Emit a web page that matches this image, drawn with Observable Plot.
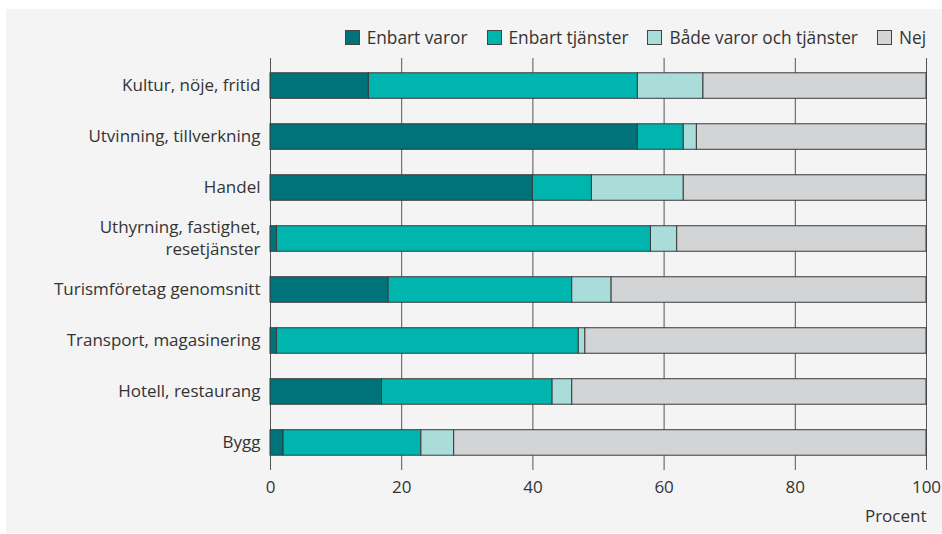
<!DOCTYPE html>
<html>
<head>
<meta charset="utf-8">
<script src="https://cdn.jsdelivr.net/npm/d3@7"></script>
<script src="https://cdn.jsdelivr.net/npm/@observablehq/plot@0.6"></script>
<style>
  html, body { margin: 0; padding: 0; background: #ffffff; }
  body { width: 942px; height: 534px; position: relative; overflow: hidden; font-family: "Open Sans", sans-serif; color: #333; }
  #panel { position: absolute; left: 6px; top: 9px; width: 936px; height: 524px; background: #f4f4f4; }
  #legend { position: absolute; right: 16px; top: 17px; display: flex; align-items: center; font-size: 17.3px; color: #333; white-space: nowrap; }
  .item { display: flex; align-items: center; margin-left: 19px; }
  .sw { width: 13px; height: 13px; border: 1px solid #444; margin-right: 7px; box-sizing: content-box; }
  #chart { position: absolute; left: 0; top: 0; }
</style>
</head>
<body>
<div id="panel">
  <div id="legend"></div>
  <div id="chart"></div>
</div>
<script>
const categories = [
  "Kultur, nöje, fritid",
  "Utvinning, tillverkning",
  "Handel",
  "Uthyrning, fastighet,\nresetjänster",
  "Turismföretag genomsnitt",
  "Transport, magasinering",
  "Hotell, restaurang",
  "Bygg"
];
const series = ["Enbart varor", "Enbart tjänster", "Både varor och tjänster", "Nej"];
const colors = ["#00727a", "#00b5ae", "#aadcd9", "#d3d4d6"];
const enbartVaror    = [15, 56, 40,  1, 18,  1, 17,  2];
const enbartTjanster = [41,  7,  9, 57, 28, 46, 26, 21];
const bade           = [10,  2, 14,  4,  6,  1,  3,  5];
const nej            = [34, 35, 37, 38, 48, 52, 54, 72];
const xTicks = [0, 20, 40, 60, 80, 100];
const xLabel = "Procent";

const valuesBySeries = [enbartVaror, enbartTjanster, bade, nej];
const data = [];
categories.forEach((c, i) => {
  series.forEach((s, j) => data.push({category: c, series: s, value: valuesBySeries[j][i]}));
});

const FS = 17;
const plot = Plot.plot({
  width: 936,
  height: 524,
  marginLeft: 264,
  marginRight: 16,
  marginTop: 49,
  marginBottom: 63,
  style: {background: "transparent", fontFamily: "'Open Sans', sans-serif", fontSize: FS + "px", color: "#333"},
  x: {domain: [0, 100], ticks: xTicks, label: null},
  y: {domain: categories, padding: 0.5, paddingOuter: 0.29, round: false, label: null, axis: null},
  color: {domain: series, range: colors},
  marks: [
    Plot.ruleX(xTicks, {stroke: "#555", strokeWidth: 1}),
    Plot.barX(data, Plot.stackX({x: "value", y: "category", fill: "series", order: series, stroke: "#3a3a3a", strokeWidth: 1})),
    Plot.axisX({ticks: xTicks, tickSize: 0, tickPadding: 10, fontSize: FS, label: null}),
    Plot.text(categories, {y: d => d, frameAnchor: "left", dx: -10, dy: -2, textAnchor: "end", lineAnchor: "middle", fontSize: FS, lineHeight: 1.3, fill: "#333"}),
    Plot.text([xLabel], {frameAnchor: "bottom-right", dy: 51, textAnchor: "end", fontSize: FS, fill: "#333"})
  ]
});
document.getElementById("chart").appendChild(plot);

const legend = document.getElementById("legend");
series.forEach((s, j) => {
  const item = document.createElement("div");
  item.className = "item";
  const sw = document.createElement("span");
  sw.className = "sw";
  sw.style.background = colors[j];
  const t = document.createElement("span");
  t.textContent = s;
  item.appendChild(sw);
  item.appendChild(t);
  legend.appendChild(item);
});
</script>
</body>
</html>
